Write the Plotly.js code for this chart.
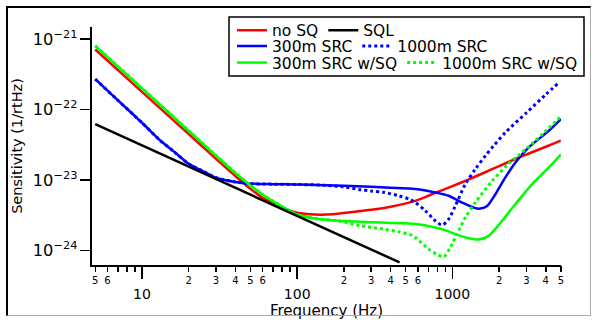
<!DOCTYPE html>
<html>
<head>
<meta charset="utf-8">
<script src="https://cdn.plot.ly/plotly-3.0.1.min.js"></script>
<style>
  body { margin: 0; background: #fff; }
  #chart { position: absolute; left: 0; top: 0; width: 595px; height: 320px; }
  #frame { position: absolute; left: 6px; top: 6px; width: 582px; height: 307px;
           border-left: 2px solid #000; border-top: 2px solid #000;
           border-right: 1px solid #aaa; border-bottom: 1px solid #aaa; pointer-events: none; }
</style>
</head>
<body>
<div id="chart"></div>
<div id="frame"></div>
<script>
// ---- data (frequency in Hz, sensitivity in 1/rtHz) ----
const sqlFreq = [5, 457];
const sqlVal  = [6.2e-23, 6.8e-25];

const noSqFreq = [5, 10, 20, 30, 40, 50, 60, 70, 85, 100, 130, 170, 220, 300, 400, 577, 750, 1000, 1213, 1600, 2000, 2549, 3200, 4000, 5000];
const noSqVal  = [7.1e-22, 1.78e-22, 4.5e-23, 2.0e-23, 1.14e-23, 7.5e-24, 5.6e-24, 4.7e-24, 3.85e-24, 3.45e-24, 3.25e-24, 3.28e-24, 3.5e-24, 3.8e-24, 4.2e-24, 5.08e-24, 6.4e-24, 8.2e-24, 9.77e-24, 1.27e-23, 1.58e-23, 1.99e-23, 2.44e-23, 2.97e-23, 3.63e-23];

const src300Freq = [5, 7, 10, 13, 16, 20, 25, 30, 40, 50, 70, 100, 150, 200, 300, 400, 577, 776, 946, 1156, 1406, 1517, 1675, 1893, 2196, 2549, 3105, 4182, 5000];
const src300Val  = [2.7e-22, 1.35e-22, 6.5e-23, 3.7e-23, 2.55e-23, 1.7e-23, 1.32e-23, 1.08e-23, 9.4e-24, 8.9e-24, 8.75e-24, 8.65e-24, 8.45e-24, 8.3e-24, 8.05e-24, 7.8e-24, 7.45e-24, 6.67e-24, 6.0e-24, 4.8e-24, 4.0e-24, 3.95e-24, 4.3e-24, 6.3e-24, 1.09e-23, 1.78e-23, 2.9e-23, 5.0e-23, 7.3e-23];

const src1000Freq = [5, 7, 10, 13, 16, 20, 25, 30, 40, 50, 70, 100, 150, 200, 255, 300, 360, 450, 536, 577, 670, 776, 860, 946, 1045, 1213, 1406, 1633, 1845, 2196, 3000, 4000, 4900];
const src1000Val  = [2.7e-22, 1.35e-22, 6.5e-23, 3.7e-23, 2.55e-23, 1.7e-23, 1.32e-23, 1.08e-23, 9.4e-24, 8.9e-24, 8.75e-24, 8.65e-24, 8.45e-24, 8.0e-24, 7.3e-24, 7.0e-24, 6.7e-24, 6.0e-24, 5.3e-24, 4.8e-24, 3.67e-24, 2.65e-24, 2.3e-24, 2.8e-24, 4.31e-24, 8.78e-24, 1.43e-23, 2.21e-23, 3.06e-23, 4.73e-23, 9.0e-23, 1.63e-22, 2.45e-22];

const src300SqFreq = [5, 10, 20, 30, 40, 50, 60, 70, 85, 100, 130, 170, 220, 300, 400, 577, 776, 900, 1045, 1274, 1479, 1715, 1900, 2094, 2549, 3266, 4182, 5000];
const src300SqVal  = [8.0e-22, 2.0e-22, 5.0e-23, 2.22e-23, 1.26e-23, 8.4e-24, 6.2e-24, 5.0e-24, 3.9e-24, 3.25e-24, 2.85e-24, 2.7e-24, 2.6e-24, 2.53e-24, 2.47e-24, 2.38e-24, 2.13e-24, 1.95e-24, 1.71e-24, 1.5e-24, 1.44e-24, 1.62e-24, 2.05e-24, 2.65e-24, 4.57e-24, 8.78e-24, 1.51e-23, 2.3e-23];

const src1000SqFreq = [5, 10, 20, 30, 40, 50, 60, 70, 85, 100, 130, 170, 200, 255, 360, 450, 536, 577, 703, 800, 880, 970, 1070, 1213, 1406, 1810, 2298, 2976, 3808, 5000];
const src1000SqVal  = [8.0e-22, 2.0e-22, 5.0e-23, 2.22e-23, 1.26e-23, 8.4e-24, 6.2e-24, 5.0e-24, 3.9e-24, 3.25e-24, 2.85e-24, 2.7e-24, 2.55e-24, 2.25e-24, 2.02e-24, 1.85e-24, 1.68e-24, 1.53e-24, 1.05e-24, 8.8e-25, 8.17e-25, 1.11e-24, 1.71e-24, 2.95e-24, 4.81e-24, 9.77e-24, 1.69e-23, 2.75e-23, 4.48e-23, 8.0e-23];

// axis tick labels
const majorTickVals = [10, 100, 1000];
const majorTickText = ['10', '100', '1000'];
const minorTickVals = [5, 6, 20, 30, 40, 50, 60, 200, 300, 400, 500, 600, 2000, 3000, 4000, 5000];
const minorTickText = ['5', '6', '2', '3', '4', '5', '6', '2', '3', '4', '5', '6', '2', '3', '4', '5'];
const unlabeledTickVals = [7, 8, 9, 70, 80, 90, 700, 800, 900];

// ---- layout helpers ----
const W = 595, H = 320;
const M = { l: 92, r: 34, t: 27, b: 55 };
const PW = W - M.l - M.r, PH = H - M.t - M.b;
const px2x = px => (px - M.l) / PW;
const px2y = py => (H - M.b - py) / PH;
const FONT = 'DejaVu Sans';

function tr(x, y, name, color, dash, legend, xaxis) {
  return {
    x: x, y: y, name: name, type: 'scatter', mode: 'lines', xaxis: xaxis || 'x',
    line: { color: color, width: dash === 'dot' ? 3 : 2.5, dash: dash, shape: 'spline', smoothing: 0.8 },
    legend: legend, hoverinfo: 'skip'
  };
}

const traces = [
  tr(noSqFreq, noSqVal, 'no SQ', '#ff0000', 'solid', 'legend'),
  tr(sqlFreq, sqlVal, 'SQL', '#000000', 'solid', 'legend', 'x2'),
  tr(src300Freq, src300Val, '300m SRC', '#0000ff', 'solid', 'legend2'),
  tr(src1000Freq, src1000Val, '1000m SRC', '#0000ff', 'dot', 'legend2'),
  tr(src300SqFreq, src300SqVal, '300m SRC w/SQ', '#00ff00', 'solid', 'legend3'),
  tr(src1000SqFreq, src1000SqVal, '1000m SRC w/SQ', '#00ff00', 'dot', 'legend3')
];

function leg(rowPx) {
  return {
    orientation: 'h', x: px2x(232), y: px2y(rowPx), xanchor: 'left', yanchor: 'middle',
    font: { family: FONT, size: 15.5, color: '#000' }, bgcolor: 'rgba(0,0,0,0)', borderwidth: 0,
    itemwidth: 30, traceorder: 'normal'
  };
}

const xRange = [0.678, 3.7];
const layout = {
  width: W, height: H,
  margin: M,
  paper_bgcolor: '#fff', plot_bgcolor: 'rgba(0,0,0,0)',
  font: { family: FONT, color: '#000' },
  showlegend: true,
  legend: leg(30.7),
  legend2: leg(46.5),
  legend3: leg(63),
  xaxis: {
    type: 'log', range: xRange, showgrid: false, zeroline: false,
    showline: true, linewidth: 2, linecolor: '#000',
    tickmode: 'array', tickvals: majorTickVals, ticktext: majorTickText,
    ticks: 'outside', ticklen: 12, tickwidth: 1.5, tickcolor: '#000',
    tickfont: { family: FONT, size: 14 }, ticklabelstandoff: 3,
    title: { text: 'Frequency (Hz)', font: { family: FONT, size: 15 }, standoff: 12 }
  },
  xaxis2: {
    type: 'log', range: xRange, overlaying: 'x', anchor: 'y', side: 'bottom',
    showgrid: false, zeroline: false, showline: false,
    tickmode: 'array', tickvals: minorTickVals, ticktext: minorTickText,
    ticks: 'outside', ticklen: 6, tickwidth: 1.5, tickcolor: '#000',
    tickfont: { family: FONT, size: 10 },
    minor: { tickmode: 'array', tickvals: unlabeledTickVals, ticks: 'outside', ticklen: 6, tickwidth: 1.5, tickcolor: '#000', showgrid: false }
  },
  yaxis: {
    type: 'log', range: [-24.204, -20.83], showgrid: false, zeroline: false,
    showline: true, linewidth: 2, linecolor: '#000',
    dtick: 1, exponentformat: 'power',
    ticks: 'outside', ticklen: 10, tickwidth: 1.5, tickcolor: '#000',
    tickfont: { family: FONT, size: 13 },
    title: { text: 'Sensitivity (1/rtHz)', font: { family: FONT, size: 14.5 }, standoff: 7 }
  },
  shapes: [{
    type: 'rect', xref: 'paper', yref: 'paper', layer: 'above',
    x0: px2x(229), x1: px2x(584), y0: px2y(76), y1: px2y(17),
    line: { color: '#000', width: 1.5 }, fillcolor: '#fff'
  }]
};

Plotly.newPlot('chart', traces, layout, { displayModeBar: false, staticPlot: true });
</script>
</body>
</html>
